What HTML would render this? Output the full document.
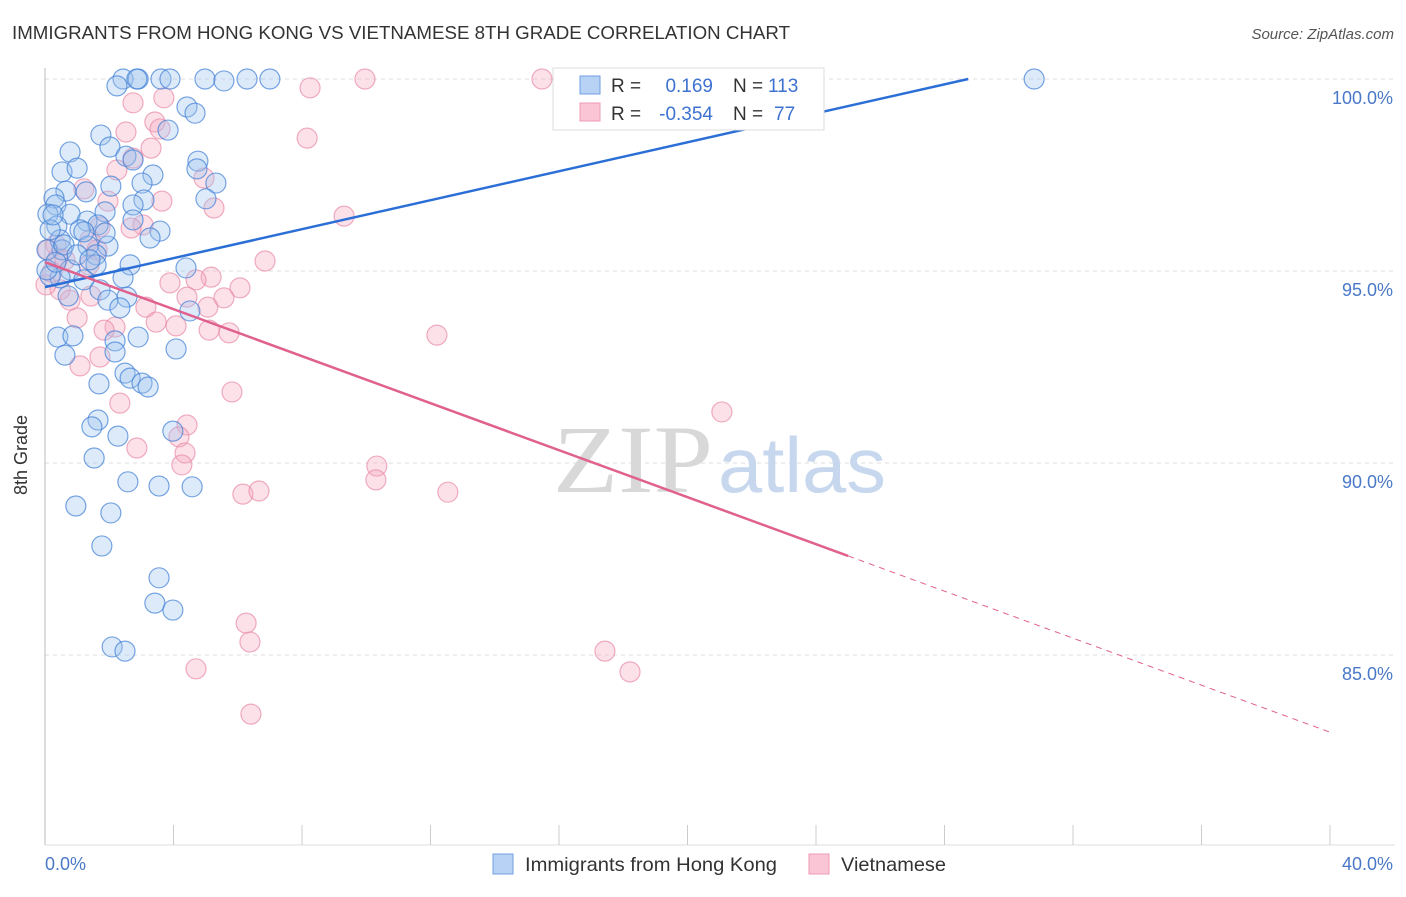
<!DOCTYPE html>
<html><head><meta charset="utf-8"><style>
body{margin:0;background:#fff;font-family:"Liberation Sans",sans-serif}
</style></head><body>
<svg id="chart" width="1406" height="892" xmlns="http://www.w3.org/2000/svg" style="font-family:'Liberation Sans',sans-serif">
<text x="12" y="39" font-size="18" fill="#333" textLength="778" lengthAdjust="spacingAndGlyphs">IMMIGRANTS FROM HONG KONG VS VIETNAMESE 8TH GRADE CORRELATION CHART</text>
<text x="1394" y="39" font-size="15" fill="#555" font-style="italic" text-anchor="end">Source: ZipAtlas.com</text>
<g id="grid"></g>
<g><text x="553" y="492" font-size="96" fill="#d8d8d8" font-family="Liberation Serif,serif" textLength="160" lengthAdjust="spacingAndGlyphs">ZIP</text><text x="718" y="492" font-size="78" fill="#c6d7ee" textLength="168" lengthAdjust="spacingAndGlyphs">atlas</text></g>
<line x1="45" y1="68" x2="45" y2="845" stroke="#bbb"/>
<line x1="45" y1="845" x2="1395" y2="845" stroke="#ddd"/>
<g id="xticks"></g>
<g id="pts"></g>
<g id="trend"></g>
<text x="27" y="455" font-size="18" fill="#333" text-anchor="middle" transform="rotate(-90 27 455)">8th Grade</text>
<text x="45" y="870" font-size="18" fill="#4a78c8">0.0%</text>
<text x="1393" y="870" font-size="18" fill="#4a78c8" text-anchor="end">40.0%</text>
<g>
<rect x="553" y="68" width="271" height="62" fill="#fff" stroke="#ddd"/>
<rect x="580" y="76" width="20" height="18" fill="#b8d2f5" stroke="#6f9fe0"/>
<rect x="580" y="103" width="20" height="18" fill="#fac5d5" stroke="#ee9ab4"/>
<text x="611" y="92" font-size="19" fill="#333">R =</text><text x="713" y="92" font-size="19" fill="#3d72d0" text-anchor="end">0.169</text>
<text x="733" y="92" font-size="19" fill="#333">N =</text><text x="768" y="92" font-size="19" fill="#3d72d0">113</text>
<text x="611" y="120" font-size="19" fill="#333">R =</text><text x="713" y="120" font-size="19" fill="#3d72d0" text-anchor="end">-0.354</text>
<text x="733" y="120" font-size="19" fill="#333">N =</text><text x="774" y="120" font-size="19" fill="#3d72d0">77</text>
</g>
<g>
<rect x="493" y="854" width="20" height="20" fill="#b8d2f5" stroke="#6f9fe0"/>
<text x="525" y="871" font-size="19.5" fill="#333" textLength="252" lengthAdjust="spacingAndGlyphs">Immigrants from Hong Kong</text>
<rect x="809" y="854" width="20" height="20" fill="#fac5d5" stroke="#ee9ab4"/>
<text x="841" y="871" font-size="19.5" fill="#333" textLength="105" lengthAdjust="spacingAndGlyphs">Vietnamese</text>
</g>
</svg>
<script>
const yTicks=[100,95,90,85];
const yTickLabels=["100.0%","95.0%","90.0%","85.0%"];
const xTickVals=[4,8,12,16,20,24,28,32,36,40];
const blueX=[2.43,2.9,2.86,3.61,3.89,4.98,5.57,6.29,7.0,30.79,2.24,4.42,4.67,1.74,3.83,2.02,2.52,2.74,0.78,4.76,4.73,0.53,1.0,3.36,3.02,2.05,5.32,0.65,1.28,0.28,5.01,3.08,0.34,2.74,1.87,0.09,0.78,2.74,1.31,0.37,1.65,1.09,3.58,3.27,1.96,1.34,0.47,0.53,1.59,2.65,4.39,0.78,1.59,2.43,0.47,1.21,1.71,0.16,2.55,1.96,0.72,2.33,4.51,0.4,0.87,2.9,2.18,2.18,0.62,4.08,2.49,2.65,3.02,3.21,1.68,1.65,1.46,3.98,2.27,1.53,2.58,3.55,4.58,0.96,2.05,1.77,3.55,3.42,3.98,2.09,2.49,0.06,0.06,0.16,0.25,0.34,0.59,1.0,1.4,1.87,1.21];
const blueY=[100,100,100,100,100,100,99.95,100,100,100,99.82,99.27,99.11,98.54,98.67,98.23,97.99,97.89,98.1,97.86,97.66,97.58,97.68,97.5,97.29,97.21,97.29,97.08,97.06,96.9,96.88,96.85,96.72,96.72,96.54,96.48,96.48,96.33,96.3,96.17,96.2,96.07,96.04,95.86,95.65,95.65,95.81,95.55,95.42,95.16,95.08,95.03,95.16,94.82,94.82,94.77,94.51,94.87,94.32,94.24,94.35,94.04,93.96,93.28,93.31,93.28,93.18,92.89,92.81,92.97,92.34,92.21,92.08,91.98,92.06,91.12,90.94,90.83,90.7,90.13,89.51,89.4,89.38,88.88,88.7,87.84,87.01,86.35,86.17,85.21,85.1,95.03,95.55,96.07,96.46,95.23,95.68,95.42,95.29,95.99,96.02];
const pinkX=[9.96,15.47,8.25,2.74,3.7,3.42,3.58,2.52,3.3,2.24,8.16,2.74,4.95,1.21,1.96,3.64,5.26,9.31,3.05,2.68,1.71,1.4,1.62,0.34,6.85,1.37,0.4,5.17,6.07,3.89,4.7,1.43,4.42,5.57,3.14,5.07,1.0,3.46,4.08,2.18,1.84,5.11,5.73,12.2,1.71,1.09,5.82,2.33,4.42,4.17,4.36,4.26,2.86,10.33,10.3,12.54,6.16,6.66,21.07,6.26,6.38,17.43,18.21,4.7,6.41,0.09,0.22,0.47,0.78,0.03,0.62];
const pinkY=[100,100,99.77,99.38,99.51,98.88,98.7,98.62,98.2,97.63,98.46,97.94,97.42,97.14,96.82,96.82,96.64,96.43,96.2,96.12,96.15,95.81,95.55,95.68,95.26,95.16,95.34,94.84,94.56,94.69,94.77,94.35,94.32,94.3,94.06,94.06,93.78,93.67,93.57,93.54,93.46,93.46,93.39,93.33,92.76,92.53,91.85,91.56,90.99,90.68,90.26,89.95,90.39,89.92,89.56,89.24,89.19,89.27,91.33,85.83,85.34,85.1,84.56,84.64,83.46,95.55,94.97,94.51,94.24,94.64,95.29];
const blueTrend=[94.58,0.1886];
const pinkTrend=[95.23,-0.306];
const NS="http://www.w3.org/2000/svg";
const sx=v=>45+v*32.125, sy=v=>79+(100-v)*38.4;
function mk(t,a,p){const e=document.createElementNS(NS,t);for(const k in a)e.setAttribute(k,a[k]);p.appendChild(e);return e;}
const grid=document.getElementById('grid');
yTicks.forEach((t,i)=>{
 const l=mk('line',{x1:45,x2:1395,y1:sy(t),y2:sy(t),stroke:'#ddd','stroke-dasharray':'4 4'},grid);
 
 
 const tx=mk('text',{x:1393,y:sy(t)+25,'font-size':18,fill:'#4a78c8','text-anchor':'end'},grid);
 tx.textContent=yTickLabels[i];
 
 
});
const xt=document.getElementById('xticks');
xTickVals.forEach(v=>{
 const l=mk('line',{x1:sx(v),x2:sx(v),y1:825,y2:845,stroke:'#ccc'},xt);
 
 
});
const pts=document.getElementById('pts');
function series(X,Y,fill,stroke,name){X.forEach((x,i)=>{
 const c=mk('circle',{cx:sx(x),cy:sy(Y[i]),r:10,fill:fill,'fill-opacity':0.35,stroke:stroke,'stroke-opacity':0.7,'stroke-width':1.2},pts);
 
 
});}
series(pinkX,pinkY,'#f5a9c0','#e88aa8','point-vietnamese');
series(blueX,blueY,'#9fc2ef','#3f7fd6','point-hong-kong');
const tr=document.getElementById('trend');
const bx2=(100-blueTrend[0])/blueTrend[1];
const b=mk('line',{x1:sx(0),y1:sy(blueTrend[0]),x2:sx(bx2),y2:sy(100),stroke:'#2b6fd6','stroke-width':2.5},tr);


const p1=mk('line',{x1:sx(0),y1:sy(pinkTrend[0]),x2:sx(25),y2:sy(pinkTrend[0]+pinkTrend[1]*25),stroke:'#e0608e','stroke-width':2.5},tr);


const p2=mk('line',{x1:sx(25),y1:sy(pinkTrend[0]+pinkTrend[1]*25),x2:sx(40),y2:sy(pinkTrend[0]+pinkTrend[1]*40),stroke:'#e0608e','stroke-width':1,'stroke-dasharray':'6 5'},tr);


</script>
</body></html>
